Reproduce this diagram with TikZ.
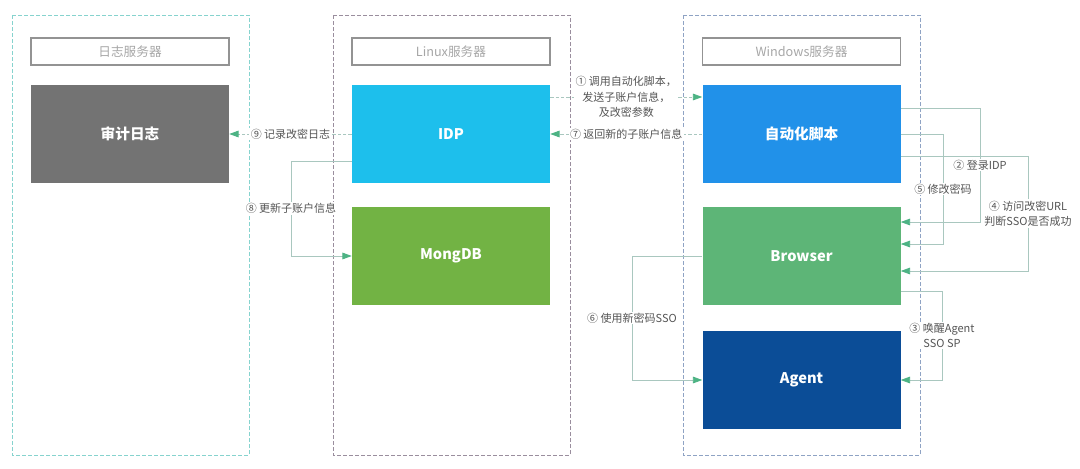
\documentclass[tikz,border=0pt]{standalone}
\usepackage{fontspec}
\setmainfont{Noto Sans CJK SC}
\usetikzlibrary{arrows.meta}
\definecolor{logGray}{HTML}{737373}
\definecolor{idpBlue}{HTML}{1DBFEC}
\definecolor{mongoGreen}{HTML}{72B344}
\definecolor{autoBlue}{HTML}{2191E9}
\definecolor{browserGreen}{HTML}{5DB577}
\definecolor{agentBlue}{HTML}{0B4D97}
\definecolor{tipGreen}{HTML}{4DB384}
\definecolor{wireGray}{HTML}{A9C7BF}
\definecolor{labelGray}{HTML}{555555}
\definecolor{logZone}{HTML}{86D3CE}
\definecolor{linuxZone}{HTML}{9A8E9E}
\definecolor{winZone}{HTML}{8FA3C4}
\tikzset{
  srvbox/.style={fill=#1,text=white,minimum width=148.5pt,minimum height=73.5pt,
    inner sep=0pt,font=\fontsize{11}{13}\selectfont\bfseries},
  headbox/.style={draw=gray!85,line width=0.8pt,text=gray!70,minimum width=148.5pt,
    minimum height=20.25pt,inner sep=0pt,font=\fontsize{9.5}{11}\selectfont},
  zone/.style={draw=#1,line width=0.6pt,dash pattern=on 3pt off 1.5pt},
  wire/.style={draw=wireGray,line width=0.6pt,-{Triangle[length=7pt,width=5pt,color=tipGreen]}},
  dwire/.style={wire,dash pattern=on 2.5pt off 1.5pt},
  lbl/.style={fill=white,inner sep=1pt,text=labelGray,align=center,
    font=\fontsize{8.25}{11.5}\selectfont}
}
\begin{document}
\begin{tikzpicture}[x=0.75pt,y=-0.75pt]
  \useasboundingbox (0,0) rectangle (1080,468);
  \draw[zone=logZone] (12,15) rectangle (249,455);
  \draw[zone=linuxZone] (333,15) rectangle (570,455);
  \draw[zone=winZone] (683,15) rectangle (920,455);
  \node[headbox] (loghead) at (130,51.5) {日志服务器};
  \node[headbox] (linuxhead) at (451,51.5) {Linux服务器};
  \node[headbox] (winhead) at (801.5,51.5) {Windows服务器};
  \node[srvbox=logGray] (log) at (130,134) {审计日志};
  \node[srvbox=idpBlue] (idp) at (451,134) {IDP};
  \node[srvbox=mongoGreen] (mongo) at (451,256) {MongDB};
  \node[srvbox=autoBlue] (auto) at (801.5,134) {自动化脚本};
  \node[srvbox=browserGreen] (browser) at (801.5,256) {Browser};
  \node[srvbox=agentBlue] (agent) at (801.5,380) {Agent};
  \draw[dwire] (idp.east |- 0,97) -- (auto.west |- 0,97)
    node[midway,lbl] {① 调用自动化脚本，\\发送子账户信息，\\及改密参数};
  \draw[dwire] (auto.west) -- (idp.east) node[midway,lbl] {⑦ 返回新的子账户信息};
  \draw[dwire] (idp.west) -- (log.east) node[midway,lbl] {⑨ 记录改密日志};
  \draw[wire] (idp.west |- 0,161) -| node[pos=0.75,lbl] {⑧ 更新子账户信息} (291,256) -- (mongo.west);
  \draw[wire] (auto.east |- 0,108) -| node[pos=0.75,lbl] {② 登录IDP} (980,222) -- (browser.east |- 0,222);
  \draw[wire] (auto.east) -| node[pos=0.75,lbl] {⑤ 修改密码} (943,244) -- (browser.east |- 0,244);
  \draw[wire] (auto.east |- 0,156) -| node[pos=0.75,lbl] {④ 访问改密URL\\判断SSO是否成功} (1028,271) -- (browser.east |- 0,271);
  \draw[wire] (browser.east |- 0,291) -| node[pos=0.75,lbl] {③ 唤醒Agent\\SSO SP} (942,380) -- (agent.east);
  \draw[wire] (browser.west) -| node[pos=0.75,lbl] {⑥ 使用新密码SSO} (632,380) -- (agent.west);
\end{tikzpicture}
\end{document}
